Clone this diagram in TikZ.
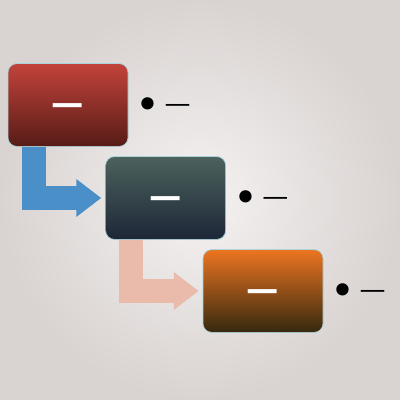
\documentclass[tikz,border=0pt]{standalone}
\usepackage{fontspec}
\newfontfamily\dashfont{DejaVu Sans}
\usetikzlibrary{positioning,arrows.meta}

\definecolor{bgin}{HTML}{F4F2F1}
\definecolor{bgout}{HTML}{D9D3D1}
\definecolor{redtop}{HTML}{C2433B}
\definecolor{redbot}{HTML}{561C16}
\definecolor{slatetop}{HTML}{4C625D}
\definecolor{slatebot}{HTML}{1D2737}
\definecolor{orangetop}{HTML}{EC7520}
\definecolor{orangebot}{HTML}{362810}
\definecolor{flowblue}{HTML}{4A8FC7}
\definecolor{flowpink}{HTML}{EABBAA}
\definecolor{rim}{HTML}{A9D4DC}

\newcommand{\bigdot}{\raisebox{-0.18cm}{\fontsize{30}{30}\selectfont\textbullet}}

\tikzset{
  stage/.style={rounded corners=0.22cm, minimum width=3cm, minimum height=2.07cm,
    draw=rim, line width=0.5pt, text=white, text height=0.48cm, text depth=0pt,
    font=\dashfont\bfseries\fontsize{23}{23}\selectfont},
  flow/.style={line width=0.6cm, -{Triangle[length=0.62cm,width=0.9cm]}},
  note/.style={font=\dashfont\fontsize{18.5}{18.5}\selectfont, inner sep=0pt,
    text height=0.39cm, text depth=0pt}
}

\begin{document}
\begin{tikzpicture}
  \shade[inner color=bgin, outer color=bgout] (0,0) rectangle (10,10);

  \node[stage, top color=redtop, bottom color=redbot] (s1) at (1.7,7.375) {—};
  \node[stage, top color=slatetop, bottom color=slatebot] (s2) at (4.14,5.05) {—};
  \node[stage, top color=orangetop, bottom color=orangebot] (s3) at (6.575,2.725) {—};

  \node[note, right=0.18cm of s1] (n1) {\bigdot\hspace{0.1cm}—};
  \node[note, right=0.18cm of s2] (n2) {\bigdot\hspace{0.1cm}—};
  \node[note, right=0.18cm of s3] (n3) {\bigdot\hspace{0.1cm}—};

  % bent arrows from one stage down to the next
  \draw[flow, flowblue] ([xshift=0.66cm]s1.south west) |- ([xshift=-0.1cm]s2.west);
  \draw[flow, flowpink] ([xshift=0.65cm]s2.south west) |- ([xshift=-0.1cm]s3.west);
\end{tikzpicture}
\end{document}
